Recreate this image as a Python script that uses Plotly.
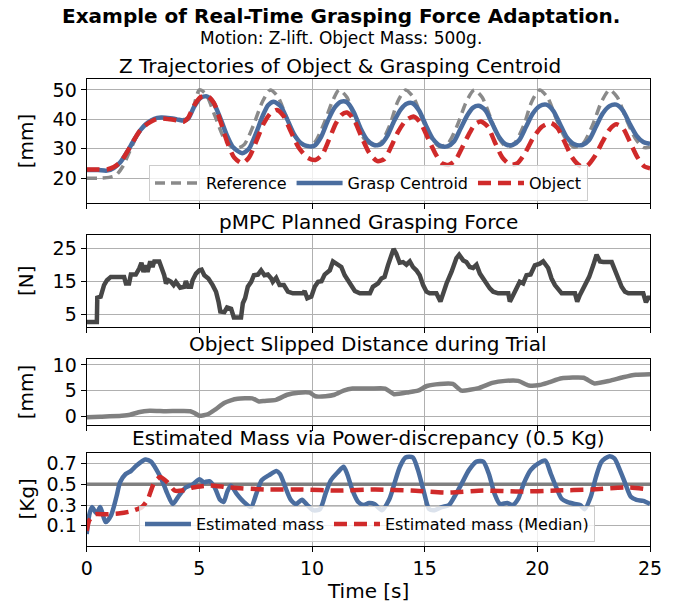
import plotly.graph_objects as go

# ---------------- data ----------------
# Panel 1: Z trajectories [mm]
REF_T = [0.0, 0.5, 1.0, 1.3, 1.6, 1.9, 2.2, 2.5, 2.8, 3.2, 3.6, 4.0, 4.4, 4.65, 5.0, 5.3, 5.7, 6.1, 6.4, 6.7,
         7.0, 7.4, 7.8, 8.15, 8.5, 8.9, 9.3, 9.7, 10.1, 10.5, 10.9, 11.2, 11.55, 11.9, 12.3, 12.7,
         13.05, 13.45, 13.8, 14.15, 14.5, 14.9, 15.3, 15.65, 16.05, 16.45, 16.85, 17.2, 17.55, 17.95,
         18.3, 18.65, 19.0, 19.4, 19.75, 20.1, 20.45, 20.85, 21.25, 21.65, 22.05, 22.45, 22.85, 23.2,
         23.55, 23.95, 24.35, 24.7, 25.0]
REF_Z = [20.0, 20.0, 20.3, 21.0, 24.0, 29.0, 34.0, 37.5, 39.5, 40.5, 40.5, 40.2, 40.0, 42.0, 50.0, 48.5, 41.0, 33.5, 30.8, 30.2,
         31.5, 38.0, 46.0, 50.0, 47.5, 40.0, 33.5, 31.0, 32.0, 38.0, 46.0, 50.0, 47.5, 40.0, 33.5, 31.0,
         32.0, 38.0, 46.0, 50.0, 47.5, 40.0, 33.5, 30.8, 32.0, 38.0, 46.0, 50.0, 47.5, 40.0,
         33.5, 30.5, 32.0, 38.0, 46.0, 50.0, 47.5, 40.0, 33.5, 30.5, 32.0, 38.0, 46.0, 50.0,
         47.5, 40.0, 33.5, 30.5, 30.5]

GRASP_T = [0.0, 0.5, 0.9, 1.2, 1.5, 1.8, 2.1, 2.4, 2.7, 3.0, 3.3, 3.7, 4.0, 4.3, 4.5, 4.75, 5.05, 5.33, 5.6, 5.9,
           6.2, 6.5, 6.9, 7.2, 7.5, 7.8, 8.05, 8.3, 8.6, 8.9, 9.2, 9.5, 9.8, 10.1, 10.4, 10.7, 11.0, 11.3,
           11.55, 11.85, 12.15, 12.45, 12.75, 13.05, 13.35, 13.65, 13.95, 14.2, 14.45, 14.75, 15.05, 15.35,
           15.7, 16.0, 16.3, 16.6, 16.9, 17.15, 17.4, 17.7, 18.0, 18.3, 18.6, 18.9, 19.2, 19.5, 19.8, 20.1,
           20.4, 20.7, 21.0, 21.3, 21.65, 22.0, 22.3, 22.6, 22.9, 23.2, 23.5, 23.8, 24.1, 24.4, 24.7, 25.0]
GRASP_Z = [22.8, 22.8, 22.6, 23.5, 25.5, 29.0, 33.0, 36.5, 38.8, 40.2, 40.6, 40.4, 40.0, 39.6, 40.2, 44.0, 47.3, 47.8, 46.0, 41.0,
           35.0, 30.5, 28.5, 30.0, 35.0, 41.0, 44.8, 46.0, 44.5, 40.0, 35.0, 32.0, 30.9, 31.0, 34.0, 39.5, 44.0, 46.0,
           45.8, 42.5, 37.0, 33.0, 31.3, 31.5, 34.5, 39.5, 43.5, 45.3, 45.5, 43.0, 38.0, 33.5,
           31.0, 30.8, 32.5, 37.0, 41.5, 44.0, 44.6, 43.0, 38.5, 34.0, 31.5, 31.3, 33.0, 37.5, 42.0, 44.5,
           45.0, 43.0, 38.5, 34.0, 31.5, 31.3, 33.0, 37.5, 42.0, 44.5, 45.0, 43.0, 38.5, 34.5, 32.3, 31.7]

OBJ_T = [0.0, 0.5, 0.9, 1.2, 1.5, 1.8, 2.1, 2.4, 2.7, 3.0, 3.3, 3.7, 4.0, 4.3, 4.5, 4.75, 5.05, 5.35, 5.65, 5.95,
         6.25, 6.55, 6.9, 7.2, 7.55, 7.85, 8.15, 8.44, 8.75, 9.05, 9.4, 9.8, 10.15, 10.45, 10.75, 11.05, 11.3,
         11.55, 11.85, 12.2, 12.55, 12.9, 13.2, 13.5, 13.8, 14.15, 14.5, 14.8, 15.15, 15.5, 15.75, 16.05,
         16.35, 16.7, 17.0, 17.25, 17.5, 17.8, 18.1, 18.45, 18.8, 19.1, 19.45, 19.8, 20.2, 20.6, 20.9,
         21.2, 21.55, 21.9, 22.2, 22.55, 22.9, 23.2, 23.5, 23.8, 24.1, 24.45, 24.75, 25.0]
OBJ_Z = [23.0, 23.0, 23.0, 23.8, 25.5, 29.0, 33.0, 36.5, 38.5, 39.8, 40.3, 40.0, 39.7, 39.2, 40.5, 44.5, 47.5, 48.0, 45.5, 39.0,
         32.0, 27.0, 25.1, 27.0, 33.0, 38.5, 42.0, 43.2, 41.0, 36.0, 30.5, 27.0, 26.2, 28.0, 33.0, 38.5, 41.5,
         42.3, 40.0, 34.0, 28.5, 25.8, 26.5, 30.5, 35.5, 39.5, 41.0, 39.0, 33.5, 28.0, 25.2, 24.5,
         26.0, 31.0, 35.5, 38.5, 39.3, 37.5, 32.5, 27.0, 24.6, 25.0, 28.5, 33.5, 37.5, 38.8, 37.0,
         32.5, 27.0, 24.2, 24.2, 27.5, 32.5, 36.5, 38.3, 37.0, 32.5, 27.0, 24.0, 23.4]

# Panel 2: planned grasping force [N]
FORCE_T = [0.0, 0.45, 0.47, 0.62, 0.77, 0.9, 1.07, 1.66, 1.74, 1.88, 1.96, 2.18, 2.33, 2.43, 2.52, 2.63, 2.7,
           2.82, 2.92, 3.0, 3.22, 3.32, 3.44, 3.52, 3.62, 3.74, 3.86, 3.96, 4.07, 4.15, 4.33, 4.4, 4.5, 4.63,
           4.7, 4.85, 5.0, 5.1, 5.22, 5.4, 5.59, 5.74, 5.85, 5.93, 6.11, 6.23, 6.41, 6.53, 6.85, 6.93, 7.03,
           7.15, 7.3, 7.42, 7.6, 7.74, 7.89, 8.04, 8.19, 8.26, 8.41, 8.56, 8.75, 8.93, 9.15, 9.6, 9.67, 9.79,
           9.97, 10.12, 10.27, 10.42, 10.56, 10.79, 10.93, 11.04, 11.3, 11.45, 11.68, 11.9, 12.12, 12.57,
           12.7, 12.93, 13.08, 13.22, 13.37, 13.52, 13.62, 13.74, 13.89, 14.04, 14.19, 14.34, 14.48, 14.63,
           14.78, 14.93, 15.08, 15.22, 15.52, 15.7, 15.82, 15.97, 16.19, 16.41, 16.53, 16.71, 16.85, 17.0,
           17.15, 17.3, 17.45, 17.6, 17.71, 17.89, 18.04, 18.26, 18.71, 18.78, 18.93, 19.08, 19.22, 19.37,
           19.52, 19.7, 19.89, 20.11, 20.26, 20.48, 20.63, 20.78, 20.93, 21.08, 21.67, 21.77, 21.89, 22.11,
           22.3, 22.48, 22.63, 22.78, 22.93, 23.3, 23.45, 23.6, 23.74, 23.89, 24.04, 24.7, 24.82, 24.93, 25.0]
FORCE_N = [2.6, 2.6, 10.0, 10.3, 13.8, 15.3, 16.3, 16.3, 14.3, 14.3, 17.0, 17.0, 18.8, 20.6, 17.8, 19.8, 17.8,
           21.0, 19.3, 21.0, 21.0, 19.3, 16.8, 14.3, 15.3, 14.8, 13.8, 14.8, 13.8, 13.0, 13.3, 15.0, 13.3, 13.3,
           15.3, 17.3, 18.3, 18.5, 16.8, 15.8, 13.8, 11.8, 8.8, 5.8, 5.6, 7.0, 6.6, 4.0, 4.0, 8.3, 9.8,
           13.3, 14.8, 16.8, 17.0, 18.3, 16.8, 17.0, 15.8, 14.8, 16.0, 13.8, 13.8, 11.8, 11.3, 11.3, 12.0, 9.8,
           10.3, 13.3, 14.8, 15.0, 17.0, 18.3, 21.0, 20.6, 19.3, 16.8, 14.3, 12.0, 11.3, 11.3,
           13.3, 14.3, 15.8, 16.3, 19.8, 22.3, 24.8, 23.3, 20.6, 20.8, 20.0, 21.0, 19.3, 18.3,
           16.8, 13.8, 11.8, 11.3, 11.3, 8.8, 11.3, 14.3, 17.8, 22.0, 23.0, 21.3, 20.8, 19.3,
           19.0, 20.0, 17.3, 15.8, 14.3, 12.8, 11.8, 11.3, 11.3, 8.8, 10.8, 12.8, 14.8, 14.3,
           16.8, 17.0, 19.8, 20.3, 21.0, 19.0, 15.8, 13.8, 12.3, 11.3, 11.3, 8.8, 10.8, 13.8,
           16.3, 19.8, 23.0, 21.0, 20.8, 20.8, 18.3, 15.8, 13.3, 11.8, 11.3, 11.3, 8.6, 10.0, 10.0]

# Panel 3: slipped distance [mm]
SLIP_T = [0.0, 0.6, 1.55, 1.93, 2.3, 2.8, 3.5, 4.6, 4.8, 5.0, 5.4, 5.7, 6.1, 6.4, 6.7, 7.35, 7.65, 7.9, 8.4,
          8.9, 9.4, 9.9, 10.15, 10.6, 11.0, 11.4, 11.8, 12.6, 13.25, 13.64, 14.3, 14.7, 15.1, 15.67, 16.25,
          16.63, 17.4, 18.0, 18.57, 19.15, 19.63, 20.1, 20.5, 21.08, 22.05, 22.53, 23.2, 23.8, 24.37, 25.0]
SLIP_MM = [-0.2, -0.1, 0.1, 0.3, 0.8, 1.1, 1.0, 1.0, 0.6, 0.1, 0.45, 1.3, 2.6, 3.1, 3.4, 3.5, 2.9, 3.0, 3.2,
           4.2, 4.6, 4.6, 3.9, 3.9, 4.2, 5.0, 5.4, 5.4, 5.4, 4.3, 4.7, 5.0, 5.9, 6.3, 6.3,
           5.0, 5.5, 6.5, 6.9, 6.9, 6.0, 6.1, 6.6, 7.4, 7.5, 6.4, 6.9, 7.6, 8.1, 8.2]

# Panel 4: estimated mass [Kg]
TRUE_MASS = 0.5
MASS_T = [0.0, 0.11, 0.23, 0.44, 0.6, 0.84, 1.08, 1.32, 1.48, 1.73, 1.97, 2.2, 2.6, 2.85, 3.1, 3.34, 3.58,
          3.82, 4.06, 4.39, 4.71, 5.0, 5.19, 5.44, 5.68, 5.92, 6.08, 6.24, 6.4, 6.65, 6.97, 7.29, 7.53, 7.77,
          8.1, 8.42, 8.58, 8.82, 9.06, 9.3, 9.55, 9.79, 10.05, 10.35, 10.6, 10.84, 11.16, 11.4, 11.56, 11.8,
          12.05, 12.3, 12.53, 12.77, 13.1, 13.42, 13.66, 13.9, 14.15, 14.47, 14.7, 14.95, 15.2, 15.44, 15.76,
          16.08, 16.32, 16.65, 16.97, 17.3, 17.6, 17.85, 18.1, 18.34, 18.66, 18.9, 19.15, 19.4, 19.71, 20.03,
          20.35, 20.6, 20.84, 21.08, 21.32, 21.65, 21.9, 22.1, 22.37, 22.6, 22.85, 23.18, 23.42, 23.66, 23.9,
          24.15, 24.4, 24.7, 25.0]
MASS_KG = [0.02, 0.2, 0.28, 0.22, 0.28, 0.135, 0.2, 0.38, 0.52, 0.6, 0.63, 0.68, 0.74, 0.72, 0.64, 0.54, 0.41,
           0.31, 0.38, 0.47, 0.5, 0.55, 0.52, 0.53, 0.47, 0.35, 0.33, 0.43, 0.49, 0.41, 0.33, 0.28, 0.41, 0.54,
           0.59, 0.63, 0.6, 0.47, 0.35, 0.31, 0.35, 0.3, 0.25, 0.26, 0.41, 0.54, 0.62, 0.67, 0.6, 0.44,
           0.33, 0.3, 0.32, 0.31, 0.25, 0.35, 0.51, 0.67, 0.76, 0.76, 0.64, 0.44, 0.26, 0.25, 0.28,
           0.3, 0.38, 0.51, 0.64, 0.72, 0.72, 0.6, 0.41, 0.31, 0.32, 0.3, 0.36, 0.51, 0.64, 0.7,
           0.73, 0.6, 0.47, 0.36, 0.33, 0.31, 0.3, 0.26, 0.38, 0.57, 0.72, 0.77, 0.75, 0.64, 0.51,
           0.38, 0.35, 0.34, 0.31]
MEDIAN_T = [0.0, 0.11, 0.35, 0.84, 1.48, 1.97, 2.45, 2.7, 3.0, 3.26, 3.58, 3.9, 4.23, 4.71, 5.5, 6.3, 7.9,
            9.5, 11.2, 12.8, 14.4, 16.0, 17.6, 19.2, 20.8, 22.4, 24.1, 25.0]
MEDIAN_KG = [0.05, 0.15, 0.21, 0.21, 0.22, 0.24, 0.28, 0.35, 0.52, 0.57, 0.52, 0.44, 0.44, 0.47, 0.49, 0.47, 0.45,
             0.45, 0.44, 0.45, 0.44, 0.42, 0.44, 0.43, 0.44, 0.45, 0.47, 0.45]

X_TICKS = [0, 5, 10, 15, 20, 25]

# ---------------- layout helpers ----------------
W, H = 683, 605
FONT = "DejaVu Sans"
BLUE = "#4A6D9F"
RED = "#D02A2A"


def px(xp):
    return xp / W


def py(yp):
    return 1 - yp / H


X0, X1 = 86.7, 650.0
panels = [(79.3, 203.3), (234.7, 327.3), (359.3, 425.3), (453.3, 545.7)]

fig = go.Figure()

# Panel 1
fig.add_trace(go.Scatter(x=REF_T, y=REF_Z, name="Reference", mode="lines",
                         line=dict(color="#8A8A8A", width=3.5, dash="10px,6px", shape="spline", smoothing=0.7),
                         xaxis="x", yaxis="y", legend="legend"))
fig.add_trace(go.Scatter(x=GRASP_T, y=GRASP_Z, name="Grasp Centroid", mode="lines",
                         line=dict(color=BLUE, width=4.5, shape="spline", smoothing=0.7),
                         xaxis="x", yaxis="y", legend="legend"))
fig.add_trace(go.Scatter(x=OBJ_T, y=OBJ_Z, name="Object", mode="lines",
                         line=dict(color=RED, width=4.5, dash="13px,7px", shape="spline", smoothing=0.7),
                         xaxis="x", yaxis="y", legend="legend"))
# Panel 2
fig.add_trace(go.Scatter(x=FORCE_T, y=FORCE_N, mode="lines", showlegend=False,
                         line=dict(color="#474747", width=4.5), xaxis="x2", yaxis="y2"))
# Panel 3
fig.add_trace(go.Scatter(x=SLIP_T, y=SLIP_MM, mode="lines", showlegend=False,
                         line=dict(color="#808080", width=4.5, shape="spline", smoothing=0.5),
                         xaxis="x3", yaxis="y3"))
# Panel 4: true-mass reference line, then estimates
fig.add_trace(go.Scatter(x=[X_TICKS[0], X_TICKS[-1]], y=[TRUE_MASS, TRUE_MASS], mode="lines",
                         showlegend=False, hoverinfo="skip",
                         line=dict(color="#808080", width=3.5), xaxis="x4", yaxis="y4"))
fig.add_trace(go.Scatter(x=MASS_T, y=MASS_KG, name="Estimated mass", mode="lines",
                         line=dict(color=BLUE, width=4.5, shape="spline", smoothing=0.7),
                         xaxis="x4", yaxis="y4", legend="legend2"))
fig.add_trace(go.Scatter(x=MEDIAN_T, y=MEDIAN_KG, name="Estimated mass (Median)", mode="lines",
                         line=dict(color=RED, width=4.5, dash="13px,7px", shape="spline", smoothing=0.6),
                         xaxis="x4", yaxis="y4", legend="legend2"))

axis_common = dict(showline=True, mirror=True, linecolor="black", linewidth=1.2,
                   ticks="outside", ticklen=5, tickwidth=1.2, tickcolor="black",
                   showgrid=True, gridcolor="#B0B0B0", gridwidth=1, zeroline=False,
                   automargin=False,
                   tickfont=dict(family=FONT, size=19, color="black"))

y_specs = [
    dict(range=[11.5, 53.6], tickvals=[20, 30, 40, 50]),
    dict(range=[1.0, 29.1], tickvals=[5, 15, 25]),
    dict(range=[-1.75, 11.1], tickvals=[0, 5, 10]),
    dict(range=[-0.093, 0.80], tickvals=[0.1, 0.3, 0.5, 0.7], ticktext=["0.1", "0.3", "0.5", "0.7"]),
]

layout = dict(width=W, height=H, autosize=False,
              margin=dict(l=0, r=0, t=0, b=0, pad=0, autoexpand=False),
              paper_bgcolor="white", plot_bgcolor="white",
              font=dict(family=FONT, color="black"))
for i, ((top, bot), ys) in enumerate(zip(panels, y_specs), start=1):
    sx = "" if i == 1 else str(i)
    xa = dict(axis_common, domain=[px(X0), px(X1)], range=[0, 25], tickvals=X_TICKS,
              anchor="y" + sx, showticklabels=(i == 4))
    if i > 1:
        xa["matches"] = "x"
    ya = dict(axis_common, domain=[py(bot), py(top)], anchor="x" + sx, **ys)
    layout["xaxis" + sx] = xa
    layout["yaxis" + sx] = ya

legend_common = dict(orientation="h", xanchor="center", yanchor="bottom",
                     bgcolor="rgba(255,255,255,0.8)", bordercolor="#CCCCCC", borderwidth=1,
                     font=dict(family=FONT, size=16, color="black"), itemwidth=46,
                     tracegroupgap=0)
layout["legend"] = dict(legend_common, x=px(368.5), y=py(201))
layout["legend2"] = dict(legend_common, x=px(367), y=py(542))
fig.update_layout(**layout)

ann = []
ann.append(dict(text="<span style='font-size:20px'><b>Example of Real-Time Grasping Force Adaptation.</b></span>"
                     "<br><span style='font-size:17px'>Motion: Z-lift. Object Mass: 500g.</span>",
                x=px(341), y=py(26), font=dict(size=16.5)))
ann.append(dict(text="Z Trajectories of Object & Grasping Centroid", x=px(340), y=py(66), font=dict(size=20)))
ann.append(dict(text="pMPC Planned Grasping Force", x=px(368.4), y=py(222), font=dict(size=20)))
ann.append(dict(text="Object Slipped Distance during Trial", x=px(368.4), y=py(344), font=dict(size=20)))
ann.append(dict(text="Estimated Mass via Power-discrepancy (0.5 Kg)", x=px(368.4), y=py(438), font=dict(size=20)))
ann.append(dict(text="Time [s]", x=px(368.4), y=py(591), font=dict(size=20)))
for label, (top, bot) in zip(["[mm]", "[N]", "[mm]", "[Kg]"], panels):
    ann.append(dict(text=label, x=px(26), y=py((top + bot) / 2), textangle=-90, font=dict(size=20)))
for a in ann:
    a.update(xref="paper", yref="paper", showarrow=False, xanchor="center", yanchor="middle")
    a["font"].update(family=FONT, color="black")
fig.update_layout(annotations=ann)

fig.write_html("out.html")
